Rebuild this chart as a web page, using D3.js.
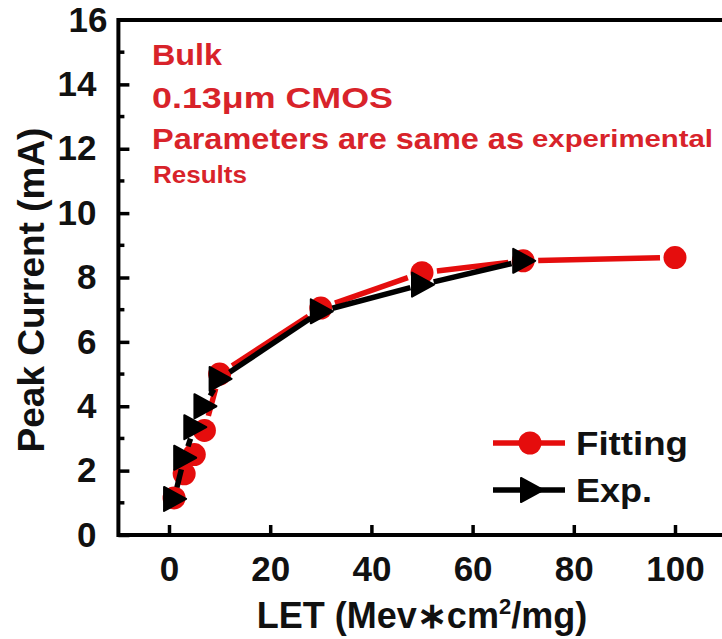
<!DOCTYPE html>
<html>
<head>
<meta charset="utf-8">
<script src="https://cdn.jsdelivr.net/npm/d3@7"></script>
<style>
  html, body { margin: 0; padding: 0; background: #fff; }
  svg { display: block; font-family: "Liberation Sans", Arial, sans-serif; font-weight: bold; }
</style>
</head>
<body>
<svg id="chart" width="722" height="639"></svg>
<script>
// LET values (Mev*cm^2/mg) and peak currents (mA)
const letFitting = [1, 3, 5, 7, 10, 30, 50, 70, 100];
const currentFitting = [1.15, 1.9, 2.5, 3.25, 5.0, 7.05, 8.15, 8.52, 8.62];
const letExp = [1, 3, 5, 7, 10, 30, 50, 70];
const currentExp = [1.12, 2.4, 3.35, 4.0, 4.85, 6.95, 7.78, 8.52];

const xTicks = [0, 20, 40, 60, 80, 100];
const yTicks = [0, 2, 4, 6, 8, 10, 12, 14, 16];
const yMinorTicks = [1, 3, 5, 7, 9, 11, 13, 15];

const legendLabels = ["Fitting", "Exp."];
const noteLines = ["Bulk", "0.13\u03bcm CMOS", "Parameters are same as"];

const RED = "#e50d0d";
const TEXT_RED = "#d8232a";
const TICK_FONT = 35;

const svg = d3.select("#chart");

const x = d3.scaleLinear().domain([-10, 110]).range([118.4, 725.6]);
const y = d3.scaleLinear().domain([0, 16]).range([535, 20]);

// plot frame
svg.append("rect")
  .attr("x", x(-10)).attr("y", y(16))
  .attr("width", x(110) - x(-10)).attr("height", y(0) - y(16))
  .attr("fill", "none").attr("stroke", "#000").attr("stroke-width", 4);

// bottom axis: inward ticks
const xAxis = d3.axisBottom(x).tickValues(xTicks).tickSizeInner(-10).tickSizeOuter(0).tickPadding(21);
const gx = svg.append("g").attr("transform", `translate(0,${y(0)})`).call(xAxis);
gx.select(".domain").remove();
gx.selectAll(".tick line").attr("stroke", "#000").attr("stroke-width", 3.5);
gx.selectAll(".tick text").attr("font-size", TICK_FONT).attr("font-weight", "bold")
  .attr("font-family", "Liberation Sans, Arial, sans-serif").attr("fill", "#111");

// left axis: inward major and minor ticks
const yAxis = d3.axisLeft(y).tickValues(yTicks.filter(v => v < 16)).tickSizeInner(-11).tickSizeOuter(0).tickPadding(22);
const gy = svg.append("g").attr("transform", `translate(${x(-10)},0)`).call(yAxis);
gy.select(".domain").remove();
gy.selectAll(".tick line").attr("stroke", "#000").attr("stroke-width", 3.5);
gy.selectAll(".tick text").attr("font-size", TICK_FONT).attr("font-weight", "bold")
  .attr("font-family", "Liberation Sans, Arial, sans-serif").attr("fill", "#111");
// label for the top value sits on the frame
svg.append("text").attr("x", x(-10) - 11).attr("y", y(16)).attr("dy", "0.35em")
  .attr("text-anchor", "end").attr("font-size", TICK_FONT).attr("fill", "#111").text("16");

svg.append("g").selectAll("line").data(yMinorTicks).join("line")
  .attr("x1", x(-10)).attr("x2", x(-10) + 6)
  .attr("y1", d => y(d)).attr("y2", d => y(d))
  .attr("stroke", "#000").attr("stroke-width", 3.5);

// axis titles
const xt = svg.append("text").attr("x", 422).attr("y", 628).attr("text-anchor", "middle")
  .attr("font-size", 36).attr("fill", "#111");
xt.append("tspan").text("LET (Mev\u2217cm");
xt.append("tspan").attr("dy", -14).attr("font-size", 22).text("2");
xt.append("tspan").attr("dy", 14).text("/mg)");

svg.append("text").attr("transform", "translate(44,290) rotate(-90)")
  .attr("text-anchor", "middle").attr("font-size", 37).attr("fill", "#111")
  .text("Peak Current (mA)");

// connecting lines with gaps around the symbols
function gappedSegments(xs, ys, gap) {
  const pts = xs.map((v, i) => [x(v), y(ys[i])]);
  const segs = [];
  for (let i = 0; i < pts.length - 1; i++) {
    const [x0, y0] = pts[i], [x1, y1] = pts[i + 1];
    const len = Math.hypot(x1 - x0, y1 - y0);
    if (len <= 2 * gap) continue;
    const ux = (x1 - x0) / len, uy = (y1 - y0) / len;
    segs.push([x0 + ux * gap, y0 + uy * gap, x1 - ux * gap, y1 - uy * gap]);
  }
  return segs;
}

const triangle = "M-10,-12 L12,0 L-10,12 Z";

// Fitting series
svg.append("g").selectAll("line").data(gappedSegments(letFitting, currentFitting, 15)).join("line")
  .attr("x1", d => d[0]).attr("y1", d => d[1]).attr("x2", d => d[2]).attr("y2", d => d[3])
  .attr("stroke", RED).attr("stroke-width", 5.5);
svg.append("g").selectAll("circle").data(letFitting).join("circle")
  .attr("cx", d => x(d)).attr("cy", (d, i) => y(currentFitting[i])).attr("r", 11.5)
  .attr("fill", RED);

// Exp. series
svg.append("g").selectAll("line").data(gappedSegments(letExp, currentExp, 12)).join("line")
  .attr("x1", d => d[0]).attr("y1", d => d[1]).attr("x2", d => d[2]).attr("y2", d => d[3])
  .attr("stroke", "#000").attr("stroke-width", 5.5);
svg.append("g").selectAll("path").data(letExp).join("path")
  .attr("transform", (d, i) => `translate(${x(d)},${y(currentExp[i])})`)
  .attr("d", triangle).attr("fill", "#000").attr("stroke", "#000").attr("stroke-width", 2).attr("stroke-linejoin", "round");

// legend
const legend = svg.append("g");
legend.append("line").attr("x1", 493).attr("x2", 565).attr("y1", 443).attr("y2", 443)
  .attr("stroke", RED).attr("stroke-width", 5.5);
legend.append("circle").attr("cx", 530).attr("cy", 443).attr("r", 11.5).attr("fill", RED);
legend.append("line").attr("x1", 493).attr("x2", 565).attr("y1", 490).attr("y2", 490)
  .attr("stroke", "#000").attr("stroke-width", 5.5);
legend.append("path").attr("transform", "translate(531,490)").attr("d", triangle)
  .attr("fill", "#000").attr("stroke", "#000").attr("stroke-width", 2).attr("stroke-linejoin", "round");
const legendWidths = [112, 76];
legend.selectAll("text").data(legendLabels).join("text")
  .attr("x", 576).attr("y", (d, i) => 455 + i * 47)
  .attr("font-size", 34).attr("fill", "#111")
  .attr("textLength", (d, i) => legendWidths[i]).attr("lengthAdjust", "spacingAndGlyphs")
  .text(d => d);

// annotation
const notes = svg.append("g").attr("fill", TEXT_RED);
const noteBaselines = [65, 108, 149];
const noteWidths = [70, 241, 372];
notes.selectAll("text.note").data(noteLines).join("text").attr("class", "note")
  .attr("x", 152).attr("y", (d, i) => noteBaselines[i])
  .attr("font-size", 30)
  .attr("textLength", (d, i) => noteWidths[i]).attr("lengthAdjust", "spacingAndGlyphs")
  .text(d => d);
notes.append("text").attr("x", 532).attr("y", 147).attr("font-size", 24)
  .attr("textLength", 181).attr("lengthAdjust", "spacingAndGlyphs").text("experimental");
notes.append("text").attr("x", 153).attr("y", 183).attr("font-size", 23)
  .attr("textLength", 94).attr("lengthAdjust", "spacingAndGlyphs").text("Results");
</script>
</body>
</html>
